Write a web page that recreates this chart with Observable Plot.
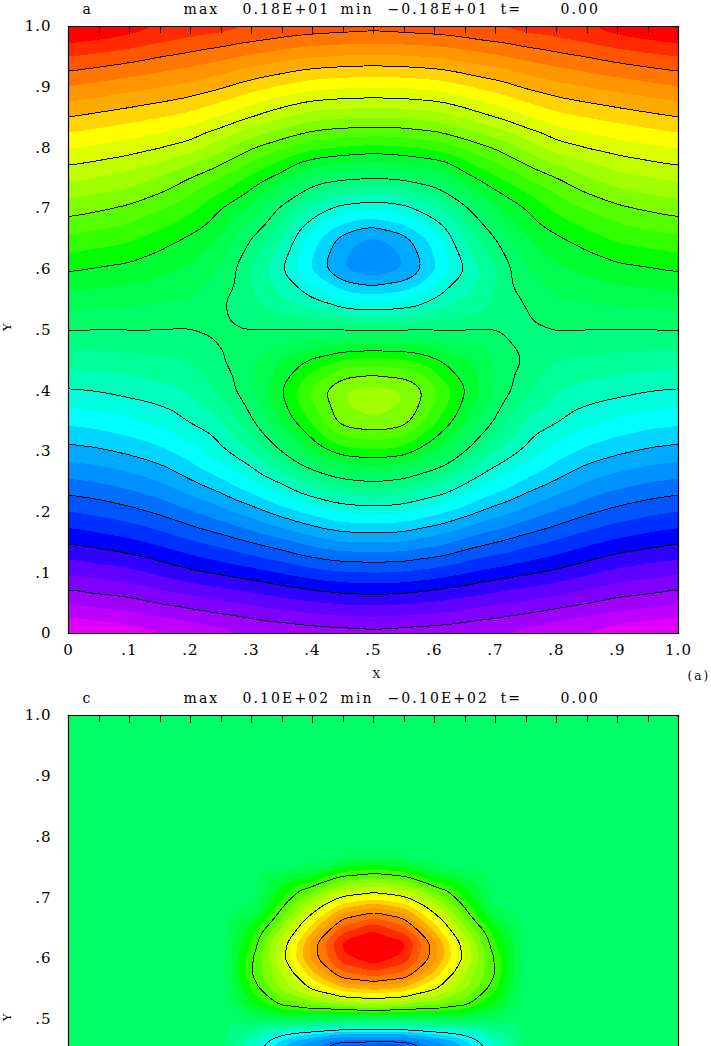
<!DOCTYPE html>
<html>
<head>
<meta charset="utf-8">
<script src="https://cdn.jsdelivr.net/npm/d3@7"></script>
<script src="https://cdn.jsdelivr.net/npm/@observablehq/plot@0.6"></script>
<style>
html,body{margin:0;padding:0;background:#fff;overflow:hidden}
svg{display:block}
svg text{letter-spacing:1px}
svg g[aria-label="text"] text{letter-spacing:2.1px}
</style>
</head>
<body>
<div id="chart"></div>
<script>
const tickValues = [0,.1,.2,.3,.4,.5,.6,.7,.8,.9,1];
const tickLabels = ["0",".1",".2",".3",".4",".5",".6",".7",".8",".9","1.0"];
const minorTicks = [.05,.15,.25,.35,.45,.55,.65,.75,.85,.95];
const majorInner = [.1,.2,.3,.4,.5,.6,.7,.8,.9];

const bandColors = ["#e000ff","#c000ff","#a000ff","#8000ff","#6000ff","#3000ff","#0000ff","#0030ff","#0055ff","#0070ff","#0090ff","#00aaff","#00d4ff","#00ffff","#00ffe0","#00ffbb","#00ff99","#00ff80","#00ff66","#00ff50","#00ff30","#00ff00","#33ff00","#55ff00","#80ff00","#a0ff00","#c0ff00","#ddff00","#ffff00","#ffd400","#ffaa00","#ff9500","#ff7700","#ff5500","#ff2a00","#ff0000"];

const levelsA = [-1.5,-1.2,-.9,-.6,-.3,0,.3,.6,.9,1.2,1.5];
const levelsC = [-7.5,-5,-2.5,2.5,5,7.5];

const titleWordsA = ["a","max","0.18E+01","min","\u22120.18E+01","t=","0.00"];
const titleWordsC = ["c","max","0.10E+02","min","\u22120.10E+02","t=","0.00"];

// field of panel a, rows from y = 1.0 down to y = 0, columns x = 0 .. 1 by .05
const fieldA = [
[1.83,1.80,1.76,1.71,1.67,1.65,1.62,1.59,1.57,1.56,1.55,1.56,1.57,1.59,1.62,1.65,1.67,1.71,1.76,1.80,1.83],
[1.597,1.57,1.54,1.50,1.468,1.43,1.381,1.342,1.305,1.289,1.28,1.289,1.305,1.342,1.381,1.43,1.468,1.50,1.54,1.57,1.597],
[1.396,1.364,1.332,1.30,1.265,1.213,1.142,1.086,1.033,1.013,1.006,1.013,1.033,1.086,1.142,1.213,1.265,1.30,1.332,1.364,1.396],
[1.196,1.166,1.135,1.101,1.062,.99,.90,.811,.737,.712,.702,.712,.737,.811,.90,.99,1.062,1.101,1.135,1.166,1.196],
[1.006,.976,.946,.904,.848,.73,.606,.514,.429,.391,.368,.391,.429,.514,.606,.73,.848,.904,.946,.976,1.006],
[.822,.793,.758,.69,.593,.495,.377,.25,.082,.023,0,.023,.082,.25,.377,.495,.593,.69,.758,.793,.822],
[.646,.614,.575,.508,.427,.30,.18,-.03,-.22,-.35,-.39,-.35,-.22,-.03,.18,.30,.427,.508,.575,.614,.646],
[.478,.45,.419,.351,.278,.19,-.005,-.19,-.46,-.65,-.74,-.65,-.46,-.19,-.005,.19,.278,.351,.419,.45,.478],
[.313,.288,.268,.224,.185,.09,-.11,-.30,-.53,-.72,-.78,-.72,-.53,-.30,-.11,.09,.185,.224,.268,.288,.313],
[.156,.144,.134,.112,.093,.015,-.09,-.20,-.29,-.415,-.454,-.415,-.29,-.20,-.09,.015,.093,.112,.134,.144,.156],
[0,0,0,0,-.005,.03,.004,0,0,0,0,0,0,0,.003,-.03,.005,0,0,0,0],
[-.155,-.147,-.132,-.116,-.096,-.005,.085,.22,.33,.42,.446,.42,.33,.22,.085,-.008,-.096,-.116,-.132,-.147,-.155],
[-.31,-.294,-.263,-.233,-.192,-.07,.09,.31,.54,.72,.76,.72,.54,.31,.09,-.07,-.192,-.233,-.263,-.294,-.31],
[-.475,-.455,-.417,-.368,-.288,-.21,-.015,.22,.428,.66,.70,.66,.428,.22,-.015,-.21,-.288,-.368,-.417,-.455,-.475],
[-.64,-.618,-.58,-.529,-.445,-.33,-.198,.005,.211,.357,.389,.357,.211,.005,-.198,-.33,-.445,-.529,-.58,-.618,-.64],
[-.82,-.794,-.755,-.70,-.612,-.523,-.408,-.283,-.139,-.037,0,-.037,-.139,-.283,-.408,-.523,-.612,-.70,-.755,-.794,-.82],
[-1.005,-.975,-.935,-.882,-.815,-.738,-.654,-.556,-.468,-.396,-.375,-.396,-.468,-.556,-.654,-.738,-.815,-.882,-.935,-.975,-1.005],
[-1.19,-1.16,-1.127,-1.075,-1.018,-.965,-.90,-.838,-.762,-.712,-.704,-.712,-.762,-.838,-.90,-.965,-1.018,-1.075,-1.127,-1.16,-1.19],
[-1.39,-1.36,-1.33,-1.278,-1.223,-1.183,-1.142,-1.095,-1.044,-1.013,-1.002,-1.013,-1.044,-1.095,-1.142,-1.183,-1.223,-1.278,-1.33,-1.36,-1.39],
[-1.59,-1.56,-1.54,-1.495,-1.458,-1.42,-1.387,-1.347,-1.312,-1.288,-1.278,-1.288,-1.312,-1.347,-1.387,-1.42,-1.458,-1.495,-1.54,-1.56,-1.59],
[-1.83,-1.80,-1.77,-1.73,-1.69,-1.65,-1.61,-1.59,-1.57,-1.56,-1.55,-1.56,-1.57,-1.59,-1.61,-1.65,-1.69,-1.73,-1.77,-1.80,-1.83]
];

// field of panel c, rows from y = 1.0 down to y = .45 by .025, columns x = 0 .. 1 by .05
const z = 0;
const fieldC = [
[z,z,z,z,z,z,z,z,z,z,z,z,z,z,z,z,z,z,z,z,z],
[z,z,z,z,z,z,z,z,z,z,z,z,z,z,z,z,z,z,z,z,z],
[z,z,z,z,z,z,z,z,z,z,z,z,z,z,z,z,z,z,z,z,z],
[z,z,z,z,z,z,z,z,z,z,z,z,z,z,z,z,z,z,z,z,z],
[z,z,z,z,z,z,z,z,z,z,z,z,z,z,z,z,z,z,z,z,z],
[z,z,z,z,z,z,z,z,z,z,z,z,z,z,z,z,z,z,z,z,z],
[z,z,z,z,z,z,z,z,z,z,z,z,z,z,z,z,z,z,z,z,z],
[z,z,z,z,z,z,z,z,z,z,z,z,z,z,z,z,z,z,z,z,z],
[z,z,z,z,z,z,z,z,z,z,z,z,z,z,z,z,z,z,z,z,z],
[z,z,z,z,z,z,z,z,z,z,z,z,z,z,z,z,z,z,z,z,z],
[z,z,z,z,z,z,0,0,.45,1.4,1.72,1.4,.45,0,0,z,z,z,z,z,z],
[z,z,z,z,z,z,0,1.2,2.1,3.3,3.7,3.3,2.1,1.2,0,z,z,z,z,z,z],
[z,z,z,z,z,z,0,1.9,3.6,5.2,5.7,5.2,3.6,1.9,0,z,z,z,z,z,z],
[z,z,z,z,z,z,.5,2.75,5.0,7.0,7.6,7.0,5.0,2.75,.5,z,z,z,z,z,z],
[z,z,z,z,z,z,1.5,3.7,6.2,8.3,9.05,8.3,6.2,3.7,1.5,z,z,z,z,z,z],
[z,z,z,z,z,z,2.0,4.6,7.2,9.4,9.9,9.4,7.2,4.6,2.0,z,z,z,z,z,z],
[z,z,z,z,z,z,2.4,4.8,7.2,9.0,9.6,9.0,7.2,4.8,2.4,z,z,z,z,z,z],
[z,z,z,z,z,z,2.5,4.2,6.3,8.0,8.44,8.0,6.3,4.2,2.5,z,z,z,z,z,z],
[z,z,z,z,z,z,2.05,3.75,5.1,6.3,6.6,6.3,5.1,3.75,2.05,z,z,z,z,z,z],
[z,z,z,z,z,z,1.4,2.7,3.3,3.8,4.1,3.8,3.3,2.7,1.4,z,z,z,z,z,z],
[z,z,z,z,z,z,.3,.6,.6,.3,.3,.3,.6,.6,.3,z,z,z,z,z,z],
[z,z,z,z,z,z,-1.1,-2.5,-3.2,-3.8,-3.8,-3.8,-3.2,-2.5,-1.1,z,z,z,z,z,z],
[z,z,z,z,z,z,-2.1,-3.9,-5.2,-6.2,-6.46,-6.2,-5.2,-3.9,-2.1,z,z,z,z,z,z]
];

const FONT = "'DejaVu Serif', serif";
const labelOf = new Map(d3.zip(tickValues, tickLabels));
const crisp = {shapeRendering: "crispEdges"};

function panel({field, rowStep, yMin, bands, levels, words, height, marginTop, marginBottom, edges, extra, yLabelDy, blur}) {
  const samples = field.flatMap((row, r) => row.map((v, c) => ({x: c / 20, y: 1 - r * rowStep, v})));
  const surface = {x: "x", y: "y", interpolate: "barycentric", pixelSize: 1, blur, clip: true};
  const titleDx = [14, 115, 174, 272, 319, 432, 492];
  return Plot.plot({
    width: 711, height, marginTop, marginBottom, marginLeft: 68, marginRight: 33,
    style: {fontFamily: FONT, background: "white", color: "black"},
    x: {domain: [0, 1], axis: null},
    y: {domain: [yMin, 1]},
    color: {type: "threshold", domain: bands.slice(1), range: bandColors},
    marks: [
      Plot.contour(samples, {...surface, fill: "v", thresholds: bands, ...crisp}),
      Plot.contour(samples, {...surface, value: "v", thresholds: levels, stroke: "black", strokeWidth: 1, fill: "none", ...crisp}),
      ...edges.map(anchor => Plot.frame({anchor, stroke: "black", strokeWidth: 1.2})),
      Plot.ruleX(minorTicks, {x: d => d, y1: 1, y2: 0.989, stroke: "black", ...crisp}),
      Plot.ruleX(majorInner, {x: d => d, y1: 1, y2: 0.9865, stroke: "black", ...crisp}),
      Plot.axisY(tickValues.filter(d => d >= yMin), {tickSize: 0, tickPadding: 17, fontSize: 15, label: null, tickFormat: d => labelOf.get(d)}),
      Plot.text(["Y"], {x: 0, y: .5, dx: -61, dy: yLabelDy, rotate: -90, fontSize: 11}),
      ...words.map((word, i) => Plot.text([word], {
        frameAnchor: "top-left", dx: titleDx[i], dy: -13, textAnchor: "start", lineAnchor: "bottom", fontSize: 14
      })),
      ...extra
    ]
  });
}

const chart = document.getElementById("chart");
chart.append(panel({
  field: fieldA, rowStep: .05, yMin: 0,
  bands: [-3, ...d3.range(1, 36).map(i => (i - 18) / 10)],
  levels: levelsA, words: titleWordsA,
  height: 690, marginTop: 26, marginBottom: 57,
  edges: ["top", "left", "right", "bottom"], yLabelDy: -4, blur: 6,
  extra: [
    Plot.axisX(tickValues, {anchor: "bottom", tickSize: 0, tickPadding: 11, fontSize: 15, label: null, tickFormat: d => labelOf.get(d)}),
    Plot.text(["X"], {x: .5, y: 0, dx: 4, dy: 41, fontSize: 11}),
    Plot.text(["(a)"], {x: 1, y: 0, dx: 9, dy: 43, textAnchor: "start", fontSize: 12})
  ]
}));
chart.append(panel({
  field: fieldC, rowStep: .025, yMin: .4554,
  bands: [-30, ...d3.range(1, 36).map(i => (i - 18) * 20 / 36 - .25)],
  levels: levelsC, words: titleWordsC,
  height: 356, marginTop: 25, marginBottom: 0,
  edges: ["top", "left", "right"], yLabelDy: -3, blur: 3,
  extra: []
}));
</script>
</body>
</html>
